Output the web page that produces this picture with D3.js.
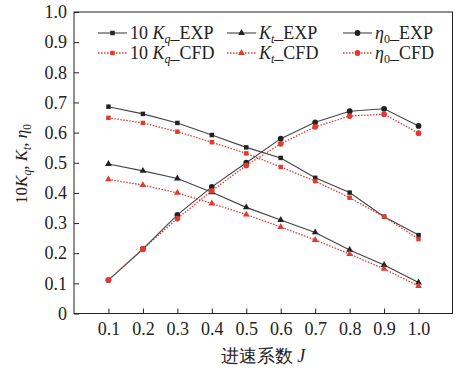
<!DOCTYPE html>
<html><head><meta charset="utf-8">
<script src="https://cdn.jsdelivr.net/npm/d3@7/dist/d3.min.js"></script>
<style>body{margin:0;background:#fff}svg{display:block}</style>
</head><body>
<svg id="c" width="457" height="370"></svg>
<script>
const J = [0.1,0.2,0.3,0.4,0.5,0.6,0.7,0.8,0.9,1.0];
const kqExp = [0.686,0.662,0.632,0.592,0.551,0.516,0.450,0.401,0.321,0.260];
const kqCfd = [0.649,0.632,0.603,0.568,0.531,0.486,0.439,0.384,0.321,0.247];
const ktExp = [0.496,0.473,0.448,0.402,0.352,0.310,0.269,0.211,0.161,0.103];
const ktCfd = [0.445,0.426,0.400,0.365,0.328,0.287,0.244,0.197,0.148,0.091];
const etaExp = [0.111,0.214,0.327,0.420,0.500,0.580,0.634,0.671,0.679,0.622];
const etaCfd = [0.111,0.214,0.315,0.407,0.491,0.563,0.619,0.655,0.661,0.598];
const xTicks = [0.1,0.2,0.3,0.4,0.5,0.6,0.7,0.8,0.9,1.0];
const yTicks = [0,0.1,0.2,0.3,0.4,0.5,0.6,0.7,0.8,0.9,1.0];

const svg = d3.select('#c');
const L=74, R=452.5, T=12, B=313.5;
const x = d3.scaleLinear().domain([0,1.1]).range([L,R+0.5]);
const y = d3.scaleLinear().domain([0,1]).range([B,T]);
const serif = '"Liberation Serif","Times New Roman",serif';
const black='#222', line='#444', red='#e03a32';

svg.append('rect').attr('x',L).attr('y',T).attr('width',R-L).attr('height',B-T)
  .attr('fill','none').attr('stroke','#222').attr('stroke-width',1);

const xa = svg.append('g').attr('transform',`translate(0,${B})`)
  .call(d3.axisBottom(x).tickValues(xTicks).tickSizeInner(-5).tickSizeOuter(0).tickPadding(9).tickFormat(d3.format('.1f')));
const ya = svg.append('g').attr('transform',`translate(${L},0)`)
  .call(d3.axisLeft(y).tickValues(yTicks).tickSizeInner(-5).tickSizeOuter(0).tickPadding(7).tickFormat(d=>d===0?'0':d3.format('.1f')(d)));
[xa,ya].forEach(a=>{a.select('.domain').remove();
  a.selectAll('line').attr('stroke','#222');
  a.selectAll('text').attr('font-family',serif).attr('font-size',18).attr('fill','#222');});

const series = [
  {v:kqExp, c:line, m:'sq', mc:black, dash:null},
  {v:kqCfd, c:red, m:'sq', mc:red, dash:'1.5,1.5'},
  {v:ktExp, c:line, m:'tri', mc:black, dash:null},
  {v:ktCfd, c:red, m:'tri', mc:red, dash:'1.5,1.5'},
  {v:etaExp, c:line, m:'ci', mc:black, dash:null},
  {v:etaCfd, c:red, m:'ci', mc:red, dash:'1.5,1.5'},
];
const sym = {sq:d3.symbol(d3.symbolSquare,20), tri:d3.symbol(d3.symbolTriangle,20), ci:d3.symbol(d3.symbolCircle,26)};
const gen = d3.line().x((d,i)=>x(J[i])).y(d=>y(d));
series.forEach(s=>{
  svg.append('path').attr('d',gen(s.v)).attr('fill','none').attr('stroke',s.c)
    .attr('stroke-width',s.dash?1.3:1.1).attr('stroke-dasharray',s.dash);
  svg.selectAll(null).data(s.v).enter().append('path')
    .attr('d',sym[s.m]).attr('transform',(d,i)=>`translate(${x(J[i])},${y(d)})`).attr('fill',s.mc);
});

const leg = [
  {s:0,x:98,y:33,t:['10 ','K','q','_EXP']},
  {s:2,x:227,y:33,t:['','K','t','_EXP']},
  {s:4,x:343,y:33,t:['','η','0','_EXP']},
  {s:1,x:98,y:53,t:['10 ','K','q','_CFD']},
  {s:3,x:227,y:53,t:['','K','t','_CFD']},
  {s:5,x:343,y:53,t:['','η','0','_CFD']},
];
leg.forEach(l=>{
  const s=series[l.s];
  svg.append('line').attr('x1',l.x).attr('x2',l.x+29).attr('y1',l.y).attr('y2',l.y)
    .attr('stroke',s.c).attr('stroke-width',s.dash?1.3:1.1).attr('stroke-dasharray',s.dash);
  svg.append('path').attr('d',sym[s.m]).attr('transform',`translate(${l.x+14.5},${l.y})`).attr('fill',s.mc);
  const t=svg.append('text').attr('x',l.x+32).attr('y',l.y+6).attr('font-family',serif).attr('font-size',18).attr('fill','#222');
  if(l.t[0]) t.append('tspan').text(l.t[0]);
  t.append('tspan').attr('font-style','italic').text(l.t[1]);
  t.append('tspan').attr('font-size',12).attr('dy',4).attr('font-style',l.t[1]==='η'?null:'italic').text(l.t[2]);
  t.append('tspan').attr('dy',-4).text(l.t[3]);
});

const yt = svg.append('text').attr('transform','translate(27,164) rotate(-90)').attr('text-anchor','middle')
  .attr('font-family',serif).attr('font-size',17).attr('fill','#222');
yt.append('tspan').text('10');
yt.append('tspan').attr('font-style','italic').text('K');
yt.append('tspan').attr('font-size',11.5).attr('dy',4).attr('font-style','italic').text('q');
yt.append('tspan').attr('dy',-4).text(', ');
yt.append('tspan').attr('font-style','italic').text('K');
yt.append('tspan').attr('font-size',11.5).attr('dy',4).attr('font-style','italic').text('t');
yt.append('tspan').attr('dy',-4).text(', ');
yt.append('tspan').attr('font-style','italic').text('η');
yt.append('tspan').attr('font-size',11.5).attr('dy',4).text('0');

const xt = svg.append('text').attr('x',263).attr('y',362).attr('text-anchor','middle')
  .attr('font-family',serif).attr('font-size',18).attr('fill','#222');
xt.append('tspan').text('进速系数 ');
xt.append('tspan').attr('font-style','italic').text('J');
</script>
</body></html>
